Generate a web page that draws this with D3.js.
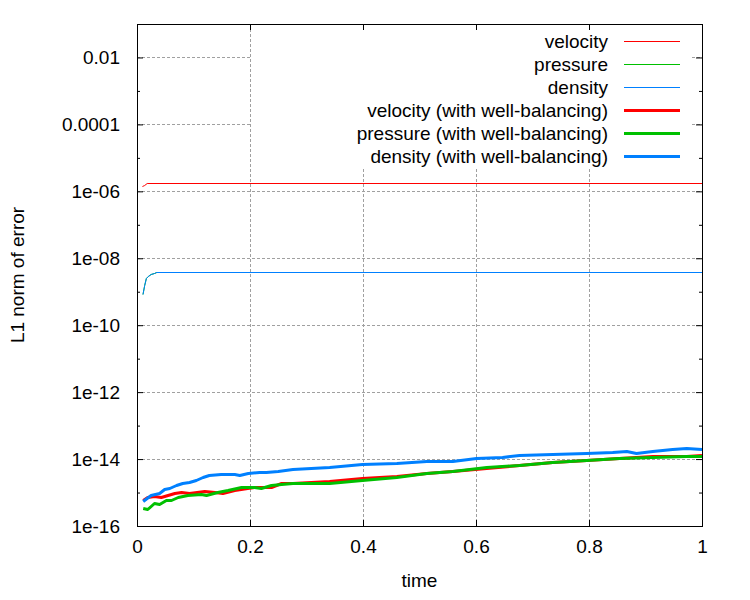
<!DOCTYPE html>
<html>
<head>
<meta charset="utf-8">
<script src="https://cdn.jsdelivr.net/npm/d3@7"></script>
<style>
body { margin: 0; background: #fff; }
text { font-family: "Liberation Sans", Arial, sans-serif; font-size: 19px; fill: #000; }
</style>
</head>
<body>
<svg width="750" height="600"></svg>
<script>
// axis ticks
var yTickValues = [1e-16, 1e-14, 1e-12, 1e-10, 1e-8, 1e-6, 1e-4, 1e-2];
var yTickLabels = ["1e-16", "1e-14", "1e-12", "1e-10", "1e-08", "1e-06", "0.0001", "0.01"];
var yMinorTicks = [1e-15, 1e-13, 1e-11, 1e-9, 1e-7, 1e-5, 1e-3];
var xTickValues = [0, 0.2, 0.4, 0.6, 0.8, 1];
var xTickLabels = ["0", "0.2", "0.4", "0.6", "0.8", "1"];

// legend
var seriesNames = ["velocity", "pressure", "density",
  "velocity (with well-balancing)", "pressure (with well-balancing)", "density (with well-balancing)"];
var seriesColors = ["#ff0000", "#00c000", "#0080ff", "#ff0000", "#00c000", "#0080ff"];
var seriesWidths = [1, 1, 1, 3, 3, 3];

// without well-balancing
var velocityT = [0.0096, 0.0136, 0.018, 1.0];
var velocity = [1.45e-6, 1.58e-6, 1.74e-6, 1.74e-6];
var pressureT = [0.0106, 0.0136, 0.0166, 0.020, 0.025, 0.031, 0.035, 1.0];
var pressure = [8.5e-10, 1.58e-9, 2.51e-9, 2.95e-9, 3.31e-9, 3.55e-9, 3.80e-9, 3.80e-9];
var densityT = [0.0106, 0.0136, 0.0166, 0.020, 0.025, 0.031, 0.035, 1.0];
var density = [8.5e-10, 1.58e-9, 2.51e-9, 2.95e-9, 3.31e-9, 3.55e-9, 3.80e-9, 3.80e-9];

// with well-balancing
var velocityWbT = [0.011, 0.019, 0.031, 0.043, 0.055, 0.067, 0.079, 0.093, 0.120, 0.138, 0.152, 0.173,
  0.196, 0.208, 0.238, 0.256, 0.276, 0.341, 0.399, 0.460, 0.513, 0.559, 0.619, 0.677, 0.736, 0.796,
  0.854, 0.913, 0.973, 1.0];
var velocityWb = [6.0e-16, 7.2e-16, 7.9e-16, 7.6e-16, 8.5e-16, 9.5e-16, 1.02e-15, 9.5e-16, 1.12e-15,
  1.02e-15, 1.0e-15, 1.20e-15, 1.38e-15, 1.48e-15, 1.48e-15, 1.91e-15, 1.95e-15, 2.19e-15, 2.69e-15,
  3.16e-15, 3.89e-15, 4.37e-15, 5.5e-15, 6.8e-15, 7.9e-15, 9.3e-15, 1.05e-14, 1.20e-14, 1.23e-14, 1.29e-14];
var pressureWbT = [0.011, 0.019, 0.031, 0.040, 0.052, 0.061, 0.073, 0.090, 0.114, 0.123, 0.143, 0.161,
  0.185, 0.208, 0.220, 0.238, 0.256, 0.276, 0.341, 0.399, 0.460, 0.513, 0.559, 0.619, 0.677, 0.736,
  0.796, 0.854, 0.913, 0.973, 1.0];
var pressureWb = [3.4e-16, 3.2e-16, 4.8e-16, 4.5e-16, 6.0e-16, 6.0e-16, 7.2e-16, 8.3e-16, 8.9e-16,
  8.5e-16, 1.05e-15, 1.20e-15, 1.45e-15, 1.48e-15, 1.38e-15, 1.70e-15, 1.78e-15, 1.95e-15, 1.91e-15,
  2.34e-15, 2.82e-15, 3.72e-15, 4.47e-15, 5.75e-15, 6.8e-15, 8.1e-15, 9.5e-15, 1.05e-14, 1.17e-14,
  1.23e-14, 1.23e-14];
var densityWbT = [0.011, 0.025, 0.040, 0.049, 0.058, 0.070, 0.081, 0.093, 0.105, 0.117, 0.128, 0.149,
  0.173, 0.182, 0.197, 0.217, 0.229, 0.250, 0.276, 0.341, 0.399, 0.460, 0.513, 0.559, 0.601, 0.647,
  0.677, 0.736, 0.796, 0.842, 0.867, 0.884, 0.913, 0.948, 0.973, 1.0];
var densityWb = [5.4e-16, 8.5e-16, 1.0e-15, 1.29e-15, 1.35e-15, 1.70e-15, 1.95e-15, 2.04e-15, 2.34e-15,
  2.82e-15, 3.31e-15, 3.47e-15, 3.47e-15, 3.24e-15, 3.72e-15, 4.17e-15, 3.98e-15, 4.47e-15, 4.90e-15,
  5.6e-15, 6.9e-15, 7.8e-15, 8.7e-15, 8.9e-15, 1.05e-14, 1.17e-14, 1.32e-14, 1.38e-14, 1.55e-14,
  1.66e-14, 1.78e-14, 1.55e-14, 1.78e-14, 1.95e-14, 2.09e-14, 2.0e-14];

var plotLeft = 137, plotRight = 702, plotTop = 24, plotBottom = 526;

var svg = d3.select('svg');

var x = d3.scaleLinear().domain([0, 1]).range([plotLeft, plotRight]);
var y = d3.scaleLog().domain([1e-16, 0.1]).range([plotBottom, plotTop]);

// grid
var grid = svg.append('g')
  .attr('stroke', '#a0a0a0')
  .attr('stroke-dasharray', '3,2')
  .attr('shape-rendering', 'crispEdges');
grid.selectAll('line.gx')
  .data(xTickValues.slice(1, -1))
  .enter()
  .append('line')
  .attr('x1', function (d) { return Math.round(x(d)) + 0.5; })
  .attr('x2', function (d) { return Math.round(x(d)) + 0.5; })
  .attr('y1', plotTop)
  .attr('y2', plotBottom);
grid.selectAll('line.gy')
  .data(yTickValues.slice(1))
  .enter()
  .append('line')
  .attr('x1', plotLeft)
  .attr('x2', plotRight)
  .attr('y1', function (d) { return Math.round(y(d)) + 0.5; })
  .attr('y2', function (d) { return Math.round(y(d)) + 0.5; });

// legend box covers the grid
svg.append('rect')
  .attr('x', 252)
  .attr('y', plotTop + 1)
  .attr('width', 438)
  .attr('height', 142)
  .attr('fill', '#fff');

// curves
var line = d3.line()
  .x(function (d) { return x(d[0]); })
  .y(function (d) { return Math.round(y(d[1])) + 0.5; });

var curves = [
  [velocityT, velocity], [pressureT, pressure], [densityT, density],
  [velocityWbT, velocityWb], [pressureWbT, pressureWb], [densityWbT, densityWb]
];

svg.append('g')
  .selectAll('path')
  .data(curves)
  .enter()
  .append('path')
  .attr('d', function (d) { return line(d3.zip(d[0], d[1])); })
  .attr('fill', 'none')
  .attr('stroke', function (d, i) { return seriesColors[i]; })
  .attr('stroke-width', function (d, i) { return seriesWidths[i]; })
  .attr('stroke-linejoin', 'round');

// axes (ticks pointing inward on all four sides)
function yLabel(d) { return yTickLabels[yTickValues.indexOf(d)]; }
function xLabel(d) { return xTickLabels[xTickValues.indexOf(d)]; }

svg.append('g')
  .attr('transform', 'translate(' + plotLeft + ',0)')
  .call(d3.axisLeft(y).tickValues(yTickValues).tickFormat(yLabel).tickSizeInner(-6).tickSizeOuter(0).tickPadding(17));
svg.append('g')
  .attr('transform', 'translate(' + plotLeft + ',0)')
  .call(d3.axisLeft(y).tickValues(yMinorTicks).tickFormat('').tickSizeInner(-3).tickSizeOuter(0));
svg.append('g')
  .attr('transform', 'translate(' + plotRight + ',0)')
  .call(d3.axisRight(y).tickValues(yTickValues).tickFormat('').tickSizeInner(-6).tickSizeOuter(0));
svg.append('g')
  .attr('transform', 'translate(' + plotRight + ',0)')
  .call(d3.axisRight(y).tickValues(yMinorTicks).tickFormat('').tickSizeInner(-3).tickSizeOuter(0));
svg.append('g')
  .attr('transform', 'translate(0,' + plotBottom + ')')
  .call(d3.axisBottom(x).tickValues(xTickValues).tickFormat(xLabel).tickSizeInner(-6).tickSizeOuter(0).tickPadding(14));
svg.append('g')
  .attr('transform', 'translate(0,' + plotTop + ')')
  .call(d3.axisTop(x).tickValues(xTickValues).tickFormat('').tickSizeInner(-6).tickSizeOuter(0));

svg.selectAll('.domain').remove();
svg.selectAll('.tick line').attr('stroke', '#000');
svg.selectAll('.tick text')
  .attr('font-family', '"Liberation Sans", Arial, sans-serif')
  .attr('font-size', 19)
  .attr('fill', '#000');

// frame
svg.append('rect')
  .attr('x', plotLeft + 0.5)
  .attr('y', plotTop + 0.5)
  .attr('width', plotRight - plotLeft)
  .attr('height', plotBottom - plotTop)
  .attr('fill', 'none')
  .attr('stroke', '#000')
  .attr('stroke-width', 1);

// legend
var legend = svg.append('g')
  .selectAll('g')
  .data(seriesNames)
  .enter()
  .append('g')
  .attr('transform', function (d, i) { return 'translate(0,' + (41 + i * 23) + ')'; });
legend.append('text')
  .attr('x', 608)
  .attr('dy', '0.35em')
  .attr('text-anchor', 'end')
  .text(function (d) { return d; });
legend.append('line')
  .attr('x1', 624)
  .attr('x2', 680)
  .attr('y1', 0.5)
  .attr('y2', 0.5)
  .attr('stroke', function (d, i) { return seriesColors[i]; })
  .attr('stroke-width', function (d, i) { return seriesWidths[i]; });

// axis titles
svg.append('text')
  .attr('x', (plotLeft + plotRight) / 2)
  .attr('y', 580)
  .attr('dy', '0.35em')
  .attr('text-anchor', 'middle')
  .text('time');
svg.append('text')
  .attr('transform', 'translate(17,' + (plotTop + plotBottom) / 2 + ') rotate(-90)')
  .attr('dy', '0.35em')
  .attr('text-anchor', 'middle')
  .text('L1 norm of error');
</script>
</body>
</html>
